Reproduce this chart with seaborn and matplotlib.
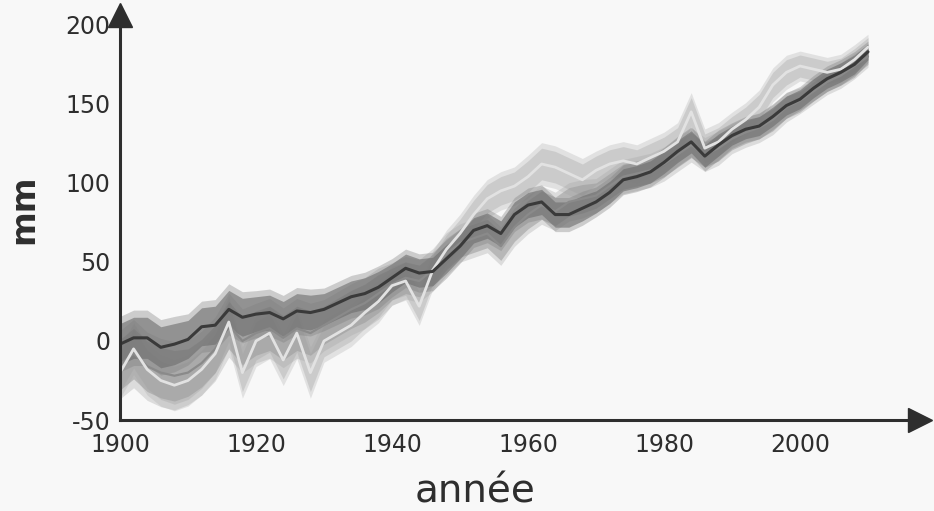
import matplotlib
matplotlib.use("Agg")
import matplotlib.pyplot as plt
import seaborn as sns
import numpy as np
import pandas as pd

# Global mean sea level reconstructions, mm relative to 1900
years = list(range(1900, 2012, 2))

sea_dark = [-2, 2, 2, -4, -2, 1, 9, 10, 20, 15, 17, 18, 14, 19, 18, 20,
            24, 28, 30, 34, 40, 46, 43, 44, 52, 60, 70, 73, 68, 80, 86, 88,
            80, 80, 84, 88, 94, 102, 104, 107, 113, 120, 126, 117, 124, 130,
            134, 136, 142, 149, 153, 160, 166, 170, 175, 183]

sea_mid = [-15, -8, -16, -20, -22, -20, -14, -5, 10, 0, 5, 8, 2, 8, 5, 10,
           15, 20, 24, 30, 36, 40, 38, 45, 55, 62, 65, 68, 60, 72, 80, 86,
           82, 88, 90, 92, 98, 104, 106, 108, 112, 118, 124, 118, 122, 128,
           132, 135, 140, 148, 152, 158, 164, 168, 174, 180]

sea_light = [-20, -5, -18, -25, -28, -25, -18, -8, 12, -20, 0, 5, -12, 5, -20, 0,
             5, 10, 18, 25, 35, 38, 22, 45, 58, 68, 80, 90, 95, 98, 104, 112,
             110, 106, 102, 108, 112, 114, 112, 116, 120, 126, 145, 122, 126, 134,
             140, 148, 162, 170, 174, 172, 170, 172, 178, 186]

# Uncertainty half-widths by decade (1900s ... 2010s), mm
decades = [1900, 1910, 1920, 1930, 1940, 1950, 1960, 1970, 1980, 1990, 2000, 2010]
unc_dark = [13, 12, 11, 10, 9, 8, 8, 7, 7, 6, 6, 5]
unc_mid = [16, 15, 14, 12, 10, 9, 9, 8, 8, 7, 6, 5]
unc_light = [12, 12, 12, 10, 9, 9, 10, 9, 9, 8, 7, 6]

xticks = [1900, 1920, 1940, 1960, 1980, 2000]
yticks = [-50, 0, 50, 100, 150, 200]

sns.set_theme(style="white")
plt.rcParams["font.family"] = ["DejaVu Sans"]

ink = "#2e2e2e"
paper = "#f8f8f8"

fig = plt.figure(figsize=(9.34, 5.11), dpi=100, facecolor=paper)
ax = fig.add_axes([120 / 934, 1 - 420 / 511, (920 - 120) / 934, (420 - 15) / 511])
ax.set_facecolor(paper)

def frame(values, unc):
    df = pd.DataFrame({"year": years, "mm": values})
    df["unc"] = [unc[decades.index((y // 10) * 10)] for y in years]
    return df

d_dark = frame(sea_dark, unc_dark)
d_mid = frame(sea_mid, unc_mid)
d_light = frame(sea_light, unc_light)

def envelope(df, color, alpha, scale=1.0):
    ax.fill_between(df["year"], df["mm"] - scale * df["unc"], df["mm"] + scale * df["unc"],
                    color=color, alpha=alpha, lw=0)

# uncertainty envelopes: soft outer and firmer inner bands
envelope(d_light, "#cfcfcf", 0.55, 1.35)
envelope(d_light, "#c6c6c6", 0.8)
envelope(d_mid, "#a8a8a8", 0.35, 1.35)
envelope(d_mid, "#9a9a9a", 0.55)
envelope(d_dark, "#7c7c7c", 0.35, 1.35)
envelope(d_dark, "#6c6c6c", 0.6)

# central estimates
sns.lineplot(data=d_mid, x="year", y="mm", ax=ax, color="#8a8a8a", lw=1.6)
sns.lineplot(data=d_light, x="year", y="mm", ax=ax, color="#e2e2e2", lw=2.0)
sns.lineplot(data=d_dark, x="year", y="mm", ax=ax, color="#3a3a3a", lw=2.2)

ax.set_xlim(1900, 1900 + (920 - 120) / 6.8)
ax.set_ylim(-50, 200 + 10 / 1.59)

for side in ["top", "right"]:
    ax.spines[side].set_visible(False)
for side in ["left", "bottom"]:
    ax.spines[side].set_color(ink)
    ax.spines[side].set_linewidth(2.2)

ax.set_xticks(xticks)
ax.set_yticks(yticks)
ax.set_xticklabels([str(t) for t in xticks])
ax.set_yticklabels([str(t) for t in yticks])
ax.tick_params(axis="both", direction="out", length=7, width=2, color=ink,
               labelcolor=ink, labelsize=17)
ax.tick_params(axis="x", pad=2)
ax.tick_params(axis="y", pad=0)

# arrowheads on the axes
ax.plot(0, 1, marker="^", markersize=17, color=ink, transform=ax.transAxes, clip_on=False)
ax.plot(1, 0, marker=">", markersize=17, color=ink, transform=ax.transAxes, clip_on=False)

ax.set_xlabel("année", fontsize=28, color=ink)
ax.xaxis.set_label_coords(0.444, -0.13)
ax.set_ylabel("mm", fontsize=24, color=ink, fontweight="bold")
ax.yaxis.set_label_coords(-0.1, 0.52)

fig.savefig("out.png", dpi=100, facecolor=paper)
